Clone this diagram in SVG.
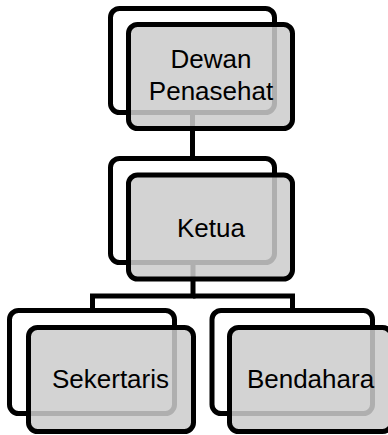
<svg xmlns="http://www.w3.org/2000/svg" width="388" height="435" viewBox="0 0 388 435">
  <style>
    .back { fill: #ffffff; stroke: #000000; stroke-width: 5; }
    .front { fill: #cccccc; fill-opacity: 0.86; stroke: #000000; stroke-width: 5; }
    .label { font-family: "Liberation Sans", Arial, sans-serif; font-size: 26px; fill: #000000; text-anchor: middle; }
    .link { fill: none; stroke: #000000; stroke-width: 5; stroke-linejoin: miter; }
  </style>
  <rect width="388" height="435" fill="#ffffff"/>

  <!-- connectors -->
  <g id="connectors">
    <path class="link" d="M192.5 110 V159"/>
    <path class="link" d="M193 262 V296 H92.5 V311"/>
    <path class="link" d="M193 296 H292.5 V311"/>
  </g>

  <!-- Dewan Penasehat -->
  <g id="node-dewan-penasehat">
    <rect class="back" x="110.5" y="8.5" width="164" height="104" rx="9"/>
    <rect class="front" x="128.5" y="24.5" width="164" height="104" rx="9"/>
    <text class="label" x="211" y="68">Dewan</text>
    <text class="label" x="211" y="100">Penasehat</text>
  </g>

  <!-- Ketua -->
  <g id="node-ketua">
    <rect class="back" x="110.5" y="158.5" width="164" height="104" rx="9"/>
    <rect class="front" x="128.5" y="175" width="164" height="104" rx="9"/>
    <text class="label" x="211" y="237">Ketua</text>
  </g>

  <!-- Sekertaris -->
  <g id="node-sekertaris">
    <rect class="back" x="9.5" y="310.5" width="165" height="103" rx="9"/>
    <rect class="front" x="28.5" y="327.5" width="165" height="104" rx="9"/>
    <text class="label" x="110.5" y="388">Sekertaris</text>
  </g>

  <!-- Bendahara -->
  <g id="node-bendahara">
    <rect class="back" x="212" y="310.5" width="160.5" height="103" rx="9"/>
    <rect class="front" x="229.5" y="327.5" width="162" height="104" rx="9"/>
    <text class="label" x="310.5" y="388">Bendahara</text>
  </g>
</svg>
